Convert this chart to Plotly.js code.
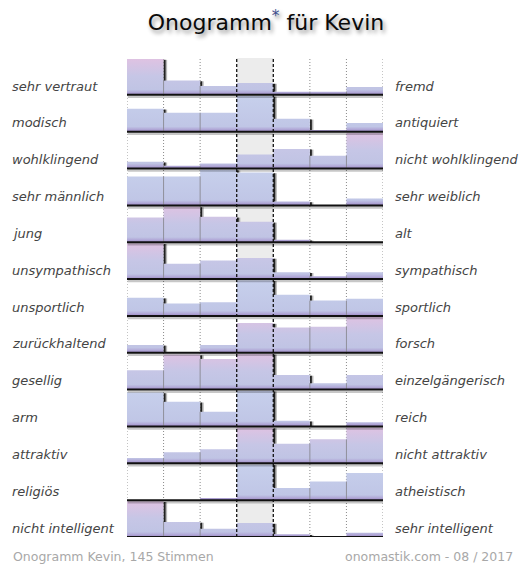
<!DOCTYPE html>
<html>
<head>
<meta charset="utf-8">
<script src="https://cdn.plot.ly/plotly-3.0.1.min.js"></script>
<style>html,body{margin:0;padding:0;background:#fff;}#chart{width:527px;height:565px;}</style>
</head>
<body>
<div id="chart"></div>
<script>
// ---- data (bar heights as % of the row's tallest bar) ----
const leftLabels = ["sehr vertraut","modisch","wohlklingend","sehr männlich","jung","unsympathisch","unsportlich","zurückhaltend","gesellig","arm","attraktiv","religiös","nicht intelligent"];
const rightLabels = ["fremd","antiquiert","nicht wohlklingend","sehr weiblich","alt","sympathisch","sportlich","forsch","einzelgängerisch","reich","nicht attraktiv","atheistisch","sehr intelligent"];
const rowValues = [
  [100, 40, 25, 33, 9, 9, 22],
  [64, 53, 53, 100, 36, 5, 24],
  [19, 8, 14, 39, 55, 36, 100],
  [81, 81, 100, 92, 11, 0, 19],
  [69, 100, 71, 57, 7, 0, 0],
  [100, 43, 52, 59, 19, 8, 19],
  [51, 35, 38, 100, 59, 43, 48],
  [22, 2, 22, 83, 71, 73, 100],
  [54, 98, 86, 100, 41, 18, 41],
  [95, 69, 41, 100, 16, 0, 12],
  [15, 31, 39, 100, 55, 67, 100],
  [0, 0, 6, 100, 34, 52, 76],
  [100, 42, 23, 39, 8, 1, 12]
];
const titleText = 'Onogramm<span style="color:#3d4d8c"><sup>*</sup></span> für Kevin';
const footerLeft = "Onogramm Kevin, 145 Stimmen";
const footerRight = "onomastik.com - 08 / 2017";

// ---- styles ----
const rowTone = ["pink","blue","pink","blue","pink","pink","blue","pink","pink","blue","pink","blue","pink"];
const grayCenter = [true,false,true,false,true,true,false,false,false,false,false,false,true];
const pinkScale = [[0,'#9c88c4'],[0.07,'#b2aad8'],[0.14,'#c0c4e4'],[0.5,'#c6c6e6'],[1,'#e0c2e2']];
const blueScale = [[0,'#9c88c4'],[0.07,'#b2aad8'],[0.14,'#c0c6e6'],[1,'#c7d0ec']];

const nRows = rowValues.length, nCols = 7, fillFrac = 0.97;
const traces = [];
const shapes = [];
const annotations = [];
const base = i => nRows - 1 - i;
const h = (i, j) => rowValues[i][j] / 100 * fillFrac;

// background shapes
for (let i = 0; i < nRows; i++) {
  if (grayCenter[i]) shapes.push({type:'rect', layer:'below', xref:'x', yref:'y', x0:3, x1:4, y0:base(i), y1:base(i)+1, fillcolor:'#ececec', line:{width:0}});
}
[0,1,2,5,6,7].forEach(k => shapes.push({type:'line', layer:'below', xref:'x', yref:'y', x0:k, x1:k, y0:0, y1:nRows, line:{color:'#8a8a8a', width:1, dash:'1px,2px'}}));

// bars
for (let i = 0; i < nRows; i++) {
  const b = base(i), xs = [], ys = [];
  for (let j = 0; j < nCols; j++) {
    const hh = h(i, j);
    if (hh <= 0) continue;
    xs.push(j, j+1, j+1, j, j, null);
    ys.push(b, b, b+hh, b+hh, b, null);
  }
  traces.push({type:'scatter', mode:'lines', x:xs, y:ys, fill:'toself', line:{width:0},
    fillcolor: rowTone[i] === 'pink' ? '#cac6e6' : '#c4cbe8',
    fillgradient:{type:'vertical', start:b, stop:b+1, colorscale: rowTone[i] === 'pink' ? pinkScale : blueScale},
    hoverinfo:'skip'});
}
// separators inside bars and shadows
const sx = [], sy = [], dx = [], dy = [], gx = [], gy = [];
for (let i = 0; i < nRows; i++) {
  const b = base(i);
  [1,2,5,6].forEach(k => {
    const m = Math.min(h(i,k-1), h(i,k));
    if (m > 0) { sx.push(k, k, null); sy.push(b, b+m, null); }
  });
  for (let k = 1; k <= nCols; k++) {
    const left = h(i, k-1), right = k < nCols ? h(i, k) : 0;
    if (left > right + 0.01) {
      const top = left - 0.02;
      if (k < nCols) { dx.push(k+0.03, k+0.03, null); dy.push(b+right, b+top, null); }
      gx.push(k+0.05, k+0.05, null); gy.push(b+right, b+top, null);
    }
  }
}
traces.push({type:'scatter', mode:'lines', x:sx, y:sy, line:{color:'#8f8f9a', width:1}, hoverinfo:'skip'});
traces.push({type:'scatter', mode:'lines', x:gx, y:gy, line:{color:'rgba(0,0,0,0.28)', width:3.5}, hoverinfo:'skip'});
traces.push({type:'scatter', mode:'lines', x:dx, y:dy, line:{color:'rgba(15,15,15,0.9)', width:1.8}, hoverinfo:'skip'});

// foreground lines
[3,4].forEach(k => shapes.push({type:'line', layer:'above', xref:'x', yref:'y', x0:k, x1:k, y0:0, y1:nRows, line:{color:'#111', width:1.3, dash:'3px,2px'}}));
for (let i = 0; i < nRows; i++) {
  const b = base(i);
  shapes.push({type:'line', layer:'above', xref:'x', yref:'y', x0:0.02, x1:7.05, y0:b-0.055, y1:b-0.055, line:{color:'rgba(0,0,0,0.22)', width:2.5}});
  shapes.push({type:'line', layer:'above', xref:'x', yref:'y', x0:0, x1:7, y0:b, y1:b, line:{color:'#111', width:2}});
}

// labels
const lblFont = {family:'DejaVu Sans', size:13, color:'#444', style:'italic'};
for (let i = 0; i < nRows; i++) {
  annotations.push({xref:'paper', yref:'y', x:(10-127)/256, y:base(i)+0.24, xanchor:'left', yanchor:'middle', text:leftLabels[i], showarrow:false, font:lblFont});
  annotations.push({xref:'paper', yref:'y', x:(393-127)/256, y:base(i)+0.24, xanchor:'left', yanchor:'middle', text:rightLabels[i], showarrow:false, font:lblFont});
}
const ftFont = {family:'DejaVu Sans', size:12.5, color:'#a8a8a8'};
annotations.push({xref:'paper', yref:'paper', x:(11-127)/256, y:-19.7/479, xanchor:'left', yanchor:'middle', text:footerLeft, showarrow:false, font:ftFont});
annotations.push({xref:'paper', yref:'paper', x:(515-127)/256, y:-19.7/479, xanchor:'right', yanchor:'middle', text:footerRight, showarrow:false, font:ftFont});

const layout = {
  width:527, height:565,
  margin:{l:127, r:144, t:58, b:28, pad:0},
  paper_bgcolor:'#fff', plot_bgcolor:'rgba(0,0,0,0)',
  showlegend:false, hovermode:false,
  title:{text:titleText, xref:'container', yref:'container', x:266/527, xanchor:'center', y:1-22.5/565, yanchor:'middle',
    font:{family:'DejaVu Sans', size:22, color:'#0a0a0a', shadow:'2px 3px 4px rgba(0,0,0,0.45)'}},
  xaxis:{range:[0,7], showgrid:false, zeroline:false, showticklabels:false, showline:false, fixedrange:true},
  yaxis:{range:[0,nRows], showgrid:false, zeroline:false, showticklabels:false, showline:false, fixedrange:true},
  shapes:shapes, annotations:annotations
};
Plotly.newPlot('chart', traces, layout, {displayModeBar:false, staticPlot:true});
</script>
</body>
</html>
